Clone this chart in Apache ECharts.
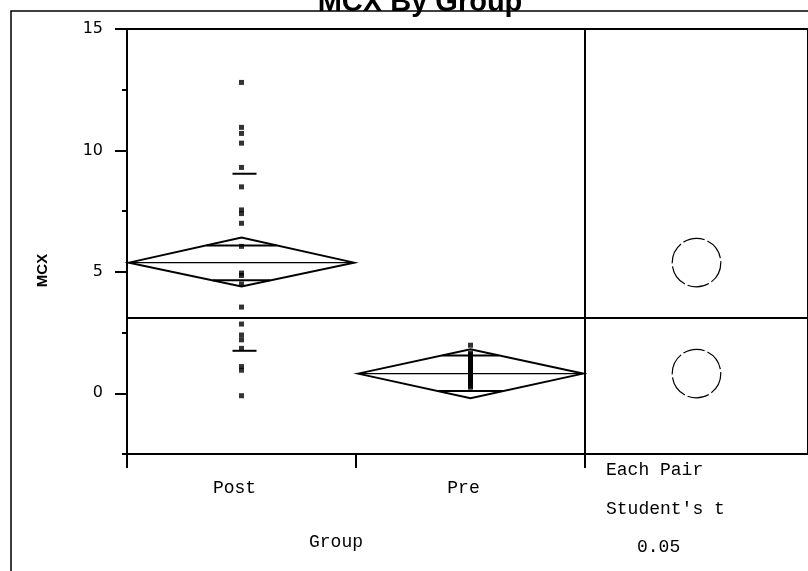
<!DOCTYPE html>
<html><head><meta charset="utf-8">
<script src="https://cdn.jsdelivr.net/npm/echarts@6/dist/echarts.min.js"></script>
<style>html,body{margin:0;padding:0;background:#fff}#c{width:808px;height:571px}</style>
</head><body><div id="c"></div>
<script>
// ---- data ----
const groups = ['Post', 'Pre'];
const postValues = [12.8, 10.95, 10.7, 10.3, 9.3, 8.5, 7.55, 7.4, 7.0, 6.05, 4.95, 4.85, 4.5, 3.55, 2.85, 2.4, 2.2, 1.85, 1.1, 0.95, -0.1];
const preValues = [1.98, 1.65, 1.6, 1.55, 1.5, 1.45, 1.4, 1.3, 1.25, 1.2, 1.1, 1.05, 1.0, 0.95, 0.9, 0.8, 0.75, 0.7, 0.6, 0.55, 0.5, 0.45, 0.4, 0.3, 0.25];
const groupMeans = [5.38, 0.81];
const ciLower = [4.40, -0.20];
const ciUpper = [6.41, 1.81];
const overlapLower = [4.65, 0.09];
const overlapUpper = [6.09, 1.56];
const sdLines = [[0, 9.04], [0, 1.75]];
const grandMean = 3.1;
const circleRadius = [1.0, 1.0];
const compareLabels = ['Each Pair', "Student's t", '0.05'];

const chart = echarts.init(document.getElementById('c'));
const mono = '"Liberation Mono", "Courier New", monospace';

const diamondData = groups.map((g, i) => [i, groupMeans[i], ciLower[i], ciUpper[i], overlapLower[i], overlapUpper[i]]);
const circleData = groups.map((g, i) => [0.5, groupMeans[i], circleRadius[i]]);

const option = {
  animation: false,
  backgroundColor: '#fff',
  grid: [
    {left: 127, top: 29, width: 458, height: 425, show: true, borderColor: '#000', borderWidth: 2, backgroundColor: 'transparent'},
    {left: 585, top: 29, width: 240, height: 425, show: true, borderColor: '#000', borderWidth: 2, backgroundColor: 'transparent'},
    {left: 127, top: 29, width: 458, height: 364.29, show: false}
  ],
  xAxis: [
    {gridIndex: 0, type: 'category', data: groups, boundaryGap: true,
      axisLine: {onZero: false, lineStyle: {color: '#000', width: 2}},
      axisTick: {show: true, length: 14, lineStyle: {color: '#000', width: 2}},
      axisLabel: {color: '#000', fontFamily: mono, fontSize: 18, margin: 25, padding: [0, 14, 0, 0]},
      name: 'Group', nameLocation: 'middle', nameGap: 79,
      nameTextStyle: {color: '#000', fontFamily: mono, fontSize: 18, padding: [0, 40, 0, 0]}},
    {gridIndex: 1, type: 'value', min: 0, max: 1, show: false},
    {gridIndex: 2, type: 'value', min: 0, max: 1, show: false}
  ],
  yAxis: [
    {gridIndex: 0, type: 'value', min: -2.5, max: 15, interval: 2.5,
      axisLine: {show: true, onZero: false, lineStyle: {color: '#000', width: 2}},
      axisTick: {show: true, length: 5, lineStyle: {color: '#000', width: 2}},
      axisLabel: {show: false}, splitLine: {show: false},
      name: 'MCX', nameLocation: 'middle', nameGap: 77,
      nameTextStyle: {color: '#000', fontFamily: '"Liberation Sans", Arial, sans-serif', fontWeight: 'bold', fontSize: 15, padding: [0, 58, 0, 0]}},
    {gridIndex: 1, type: 'value', min: -2.5, max: 15, show: false},
    {gridIndex: 2, type: 'value', min: 0, max: 15, interval: 5,
      axisLine: {show: false},
      axisTick: {show: true, length: 12, lineStyle: {color: '#000', width: 2}},
      axisLabel: {color: '#000', fontFamily: '"DejaVu Sans", sans-serif', fontSize: 16, margin: 24},
      splitLine: {show: false}}
  ],
  graphic: [
    {type: 'rect', z: -1, shape: {x: 11, y: 11, width: 1000, height: 1000}, style: {fill: 'none', stroke: '#000', lineWidth: 1.5}},
    {type: 'text', x: 420, y: 3, style: {text: 'MCX By Group', fill: '#000', font: 'bold 29px "Liberation Sans", Arial, sans-serif', align: 'center', verticalAlign: 'middle'}},
    {type: 'text', x: 606, y: 470, style: {text: compareLabels[0], fill: '#000', font: '18px ' + mono, align: 'left', verticalAlign: 'middle'}},
    {type: 'text', x: 606, y: 509, style: {text: compareLabels[1], fill: '#000', font: '18px ' + mono, align: 'left', verticalAlign: 'middle'}},
    {type: 'text', x: 637, y: 547, style: {text: compareLabels[2], fill: '#000', font: '18px ' + mono, align: 'left', verticalAlign: 'middle'}}
  ],
  series: [
    {type: 'scatter', xAxisIndex: 0, yAxisIndex: 0, symbol: 'rect', symbolSize: 5,
      itemStyle: {color: '#000'}, data: postValues.map(v => [groups[0], v]), z: 3},
    {type: 'scatter', xAxisIndex: 0, yAxisIndex: 0, symbol: 'rect', symbolSize: 5,
      itemStyle: {color: '#000'}, data: preValues.map(v => [groups[1], v]), z: 3},
    {type: 'custom', xAxisIndex: 0, yAxisIndex: 0, data: diamondData, z: 4,
      renderItem: function (params, api) {
        const idx = api.value(0);
        const c = api.coord([idx, api.value(1)]);
        const lo = api.coord([idx, api.value(2)]);
        const hi = api.coord([idx, api.value(3)]);
        const ol = api.coord([idx, api.value(4)]);
        const oh = api.coord([idx, api.value(5)]);
        const half = api.size([1, 0])[0] / 2 - 2;
        const cx = c[0], cy = c[1];
        const st = {fill: 'none', stroke: '#000', lineWidth: 2};
        const hwHi = half * (1 - Math.abs(oh[1] - cy) / Math.abs(hi[1] - cy));
        const hwLo = half * (1 - Math.abs(ol[1] - cy) / Math.abs(lo[1] - cy));
        return {type: 'group', children: [
          {type: 'polygon', shape: {points: [[cx - half, cy], [cx, hi[1]], [cx + half, cy], [cx, lo[1]]]}, style: st},
          {type: 'line', shape: {x1: cx - half, y1: cy, x2: cx + half, y2: cy}, style: {stroke: '#000', lineWidth: 1.3}},
          {type: 'line', shape: {x1: cx - hwHi, y1: oh[1], x2: cx + hwHi, y2: oh[1]}, style: {stroke: '#000', lineWidth: 2}},
          {type: 'line', shape: {x1: cx - hwLo, y1: ol[1], x2: cx + hwLo, y2: ol[1]}, style: {stroke: '#000', lineWidth: 2}}
        ]};
      },
      markLine: {silent: true, symbol: 'none', label: {show: false}, lineStyle: {color: '#000', width: 2, type: 'solid'}, data: [{yAxis: grandMean}]}
    },
    {type: 'custom', xAxisIndex: 0, yAxisIndex: 0, data: sdLines, z: 4,
      renderItem: function (params, api) {
        const p = api.coord([api.value(0), api.value(1)]);
        return {type: 'line', shape: {x1: p[0] - 9, y1: p[1], x2: p[0] + 15, y2: p[1]}, style: {stroke: '#000', lineWidth: 2}};
      }
    },
    {type: 'custom', xAxisIndex: 1, yAxisIndex: 1, data: circleData, z: 4,
      renderItem: function (params, api) {
        const c = api.coord([api.value(0), api.value(1)]);
        const r = api.size([0, api.value(2)])[1];
        return {type: 'circle', shape: {cx: c[0], cy: c[1], r: r}, style: {fill: 'none', stroke: '#000', lineWidth: 1.2, lineDash: [22, 3]}};
      },
      markLine: {silent: true, symbol: 'none', label: {show: false}, lineStyle: {color: '#000', width: 2, type: 'solid'}, data: [{yAxis: grandMean}]}
    }
  ]
};
chart.setOption(option);
</script>
</body></html>
